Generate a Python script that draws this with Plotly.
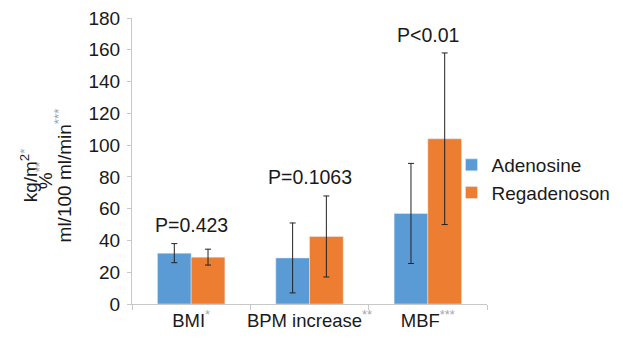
import plotly.graph_objects as go

categories = ["BMI", "BPM increase", "MBF"]
cat_marks = ["*", "**", "***"]
adenosine = [32, 29, 57]
adenosine_err = [6, 22, 31.5]
regadenoson = [29.5, 42.5, 104]
regadenoson_err = [5, 25.5, 54]
p_labels = ["P=0.423", "P=0.1063", "P<0.01"]
p_label_y = [50, 80, 169]
ytitle_lines = ["kg/m<sup>2</sup>", "%", "ml/100 ml/min"]
ytitle_marks = ["*", "**", "***"]

GREY = "#a6a6a6"
FAM = "Liberation Sans, Arial, sans-serif"
tick_text = [f"{c}<sup><span style='color:{GREY}'>{m}</span></sup>" for c, m in zip(categories, cat_marks)]

fig = go.Figure()
fig.add_trace(go.Bar(
    name="Adenosine", x=tick_text, y=adenosine, marker_color="#5B9BD5",
    error_y=dict(type="data", array=adenosine_err, color="#222222", thickness=1, width=3),
))
fig.add_trace(go.Bar(
    name="Regadenoson", x=tick_text, y=regadenoson, marker_color="#ED7D31",
    error_y=dict(type="data", array=regadenoson_err, color="#222222", thickness=1, width=3),
))

for i, (t, yv) in enumerate(zip(p_labels, p_label_y)):
    fig.add_annotation(x=i, y=yv, xref="x", yref="y", text=t, showarrow=False,
                       font=dict(family=FAM, size=19.5, color="#1a1a1a"))

# y-axis title: three rotated lines
line_x = [-0.29, -0.248, -0.194]
for xp, t, m in zip(line_x, ytitle_lines, ytitle_marks):
    fig.add_annotation(x=xp, y=0.45, xref="paper", yref="paper",
                       text=f"{t}<sup><span style='color:{GREY}'>{m}</span></sup>",
                       textangle=-90, showarrow=False, xanchor="center", yanchor="middle",
                       font=dict(family=FAM, size=19, color="#1a1a1a"))

# page has an 8px body margin, so the figure is sized/offset to compensate
fig.update_layout(
    width=615, height=331,
    margin=dict(l=124, r=136, t=10, b=35, autoexpand=False),
    paper_bgcolor="white", plot_bgcolor="white",
    barmode="group", bargap=0.43, bargroupgap=0,
    font=dict(family=FAM, size=18, color="#1a1a1a"),
    showlegend=True,
    legend=dict(x=0.9, y=0.437, xanchor="left", yanchor="middle", font=dict(size=19),
                bgcolor="rgba(0,0,0,0)", tracegroupgap=0, itemwidth=30),
    xaxis=dict(showline=True, linecolor="#c8c8c8", linewidth=1, ticks="outside",
               tickson="boundaries", ticklen=5, tickcolor="#c8c8c8", showgrid=False,
               tickfont=dict(size=18.5), tickangle=0),
    yaxis=dict(range=[0, 180], dtick=20, showline=True, linecolor="#c8c8c8", linewidth=1,
               ticks="outside", ticklen=4, tickcolor="#c8c8c8", showgrid=False, zeroline=False,
               tickfont=dict(size=19), ticklabelstandoff=3, ticklabeloverflow="allow"),
)

fig.write_html("out.html")
